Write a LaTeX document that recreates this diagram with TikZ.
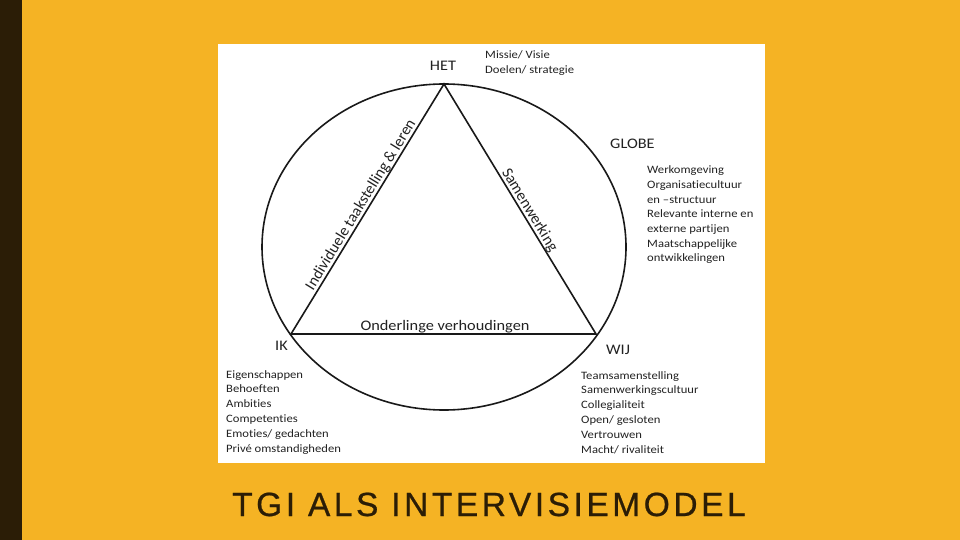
\documentclass[tikz,border=0pt]{standalone}
\usepackage{fontspec}
\setmainfont{Carlito}[FakeStretch=1.117, Ligatures=NoCommon]
\newfontfamily\slopefont{Carlito}[Ligatures=NoCommon]
\newfontfamily\titlefont[LetterSpace=10.6, FakeBold=0.7]{Liberation Sans}
\usetikzlibrary{positioning}
\definecolor{slideorange}{HTML}{F5B324}
\definecolor{slidedark}{HTML}{2B1D06}
\definecolor{inktext}{HTML}{222222}

\begin{document}
\begin{tikzpicture}[x=1pt, y=-1pt]
    \tikzstyle{corner} = [font=\fontsize{14.6}{16}\selectfont, text=inktext, inner sep=0pt, anchor=base west]
    \tikzstyle{item} = [font=\fontsize{11.3}{13}\selectfont, text=inktext, inner sep=0pt, anchor=base west]
    \tikzstyle{side} = [font=\slopefont\fontsize{15.7}{17}\selectfont, text=inktext, sloped, anchor=south, inner sep=0.5pt]
    \tikzstyle{edge} = [draw=black!90, line width=1.6pt]

    \useasboundingbox (0,0) rectangle (960,540);
    \fill[slideorange] (0,0) rectangle (960,540);
    \fill[slidedark] (0,0) rectangle (22,540);
    \fill[white] (218,44) rectangle (765,463);

    % globe and triangle
    \draw[edge] (444,247) ellipse [x radius=182pt, y radius=163pt];
    \coordinate (het) at (444,84);
    \coordinate (ik) at (291,334);
    \coordinate (wij) at (596,334);
    \draw[edge, line join=miter] (het) -- (ik) -- (wij) -- cycle;

    \path (ik) -- node[side] (individueel) {Individuele taakstelling \& leren} (het);
    \path (het) -- node[side, pos=0.52] (samen) {Samenwerking} (wij);
    \node[corner, anchor=base] (onderling) at (445,330) {Onderlinge verhoudingen};

    % corner labels
    \node[corner, anchor=base] (hetlabel) at (443,71) {HET};
    \node[corner] (globe) at (610,149) {GLOBE};
    \node[corner] (iklabel) at (275,350) {IK};
    \node[corner] (wijlabel) at (606,354) {WIJ};

    % lists
    \foreach \txt [count=\i] in {Missie/ Visie, Doelen/ strategie}
        \node[item] (het-\i) at (485,{59+15*(\i-1)}) {\txt};
    \foreach \txt [count=\i] in {Werkomgeving, Organisatiecultuur, en –structuur, Relevante interne en, externe partijen, Maatschappelijke, ontwikkelingen}
        \node[item] (globe-\i) at (647,{174+14.6*(\i-1)}) {\txt};
    \foreach \txt [count=\i] in {Eigenschappen, Behoeften, Ambities, Competenties, Emoties/ gedachten, Privé omstandigheden}
        \node[item] (ik-\i) at (226,{378+14.8*(\i-1)}) {\txt};
    \foreach \txt [count=\i] in {Teamsamenstelling, Samenwerkingscultuur, Collegialiteit, Open/ gesloten, Vertrouwen, Macht/ rivaliteit}
        \node[item] (wij-\i) at (581,{379+14.8*(\i-1)}) {\txt};

    \node[font=\titlefont\fontsize{33.5}{36}\selectfont, text=slidedark, anchor=base west, inner sep=0pt] (title) at (232,516) {TGI ALS INTERVISIEMODEL};
\end{tikzpicture}
\end{document}
